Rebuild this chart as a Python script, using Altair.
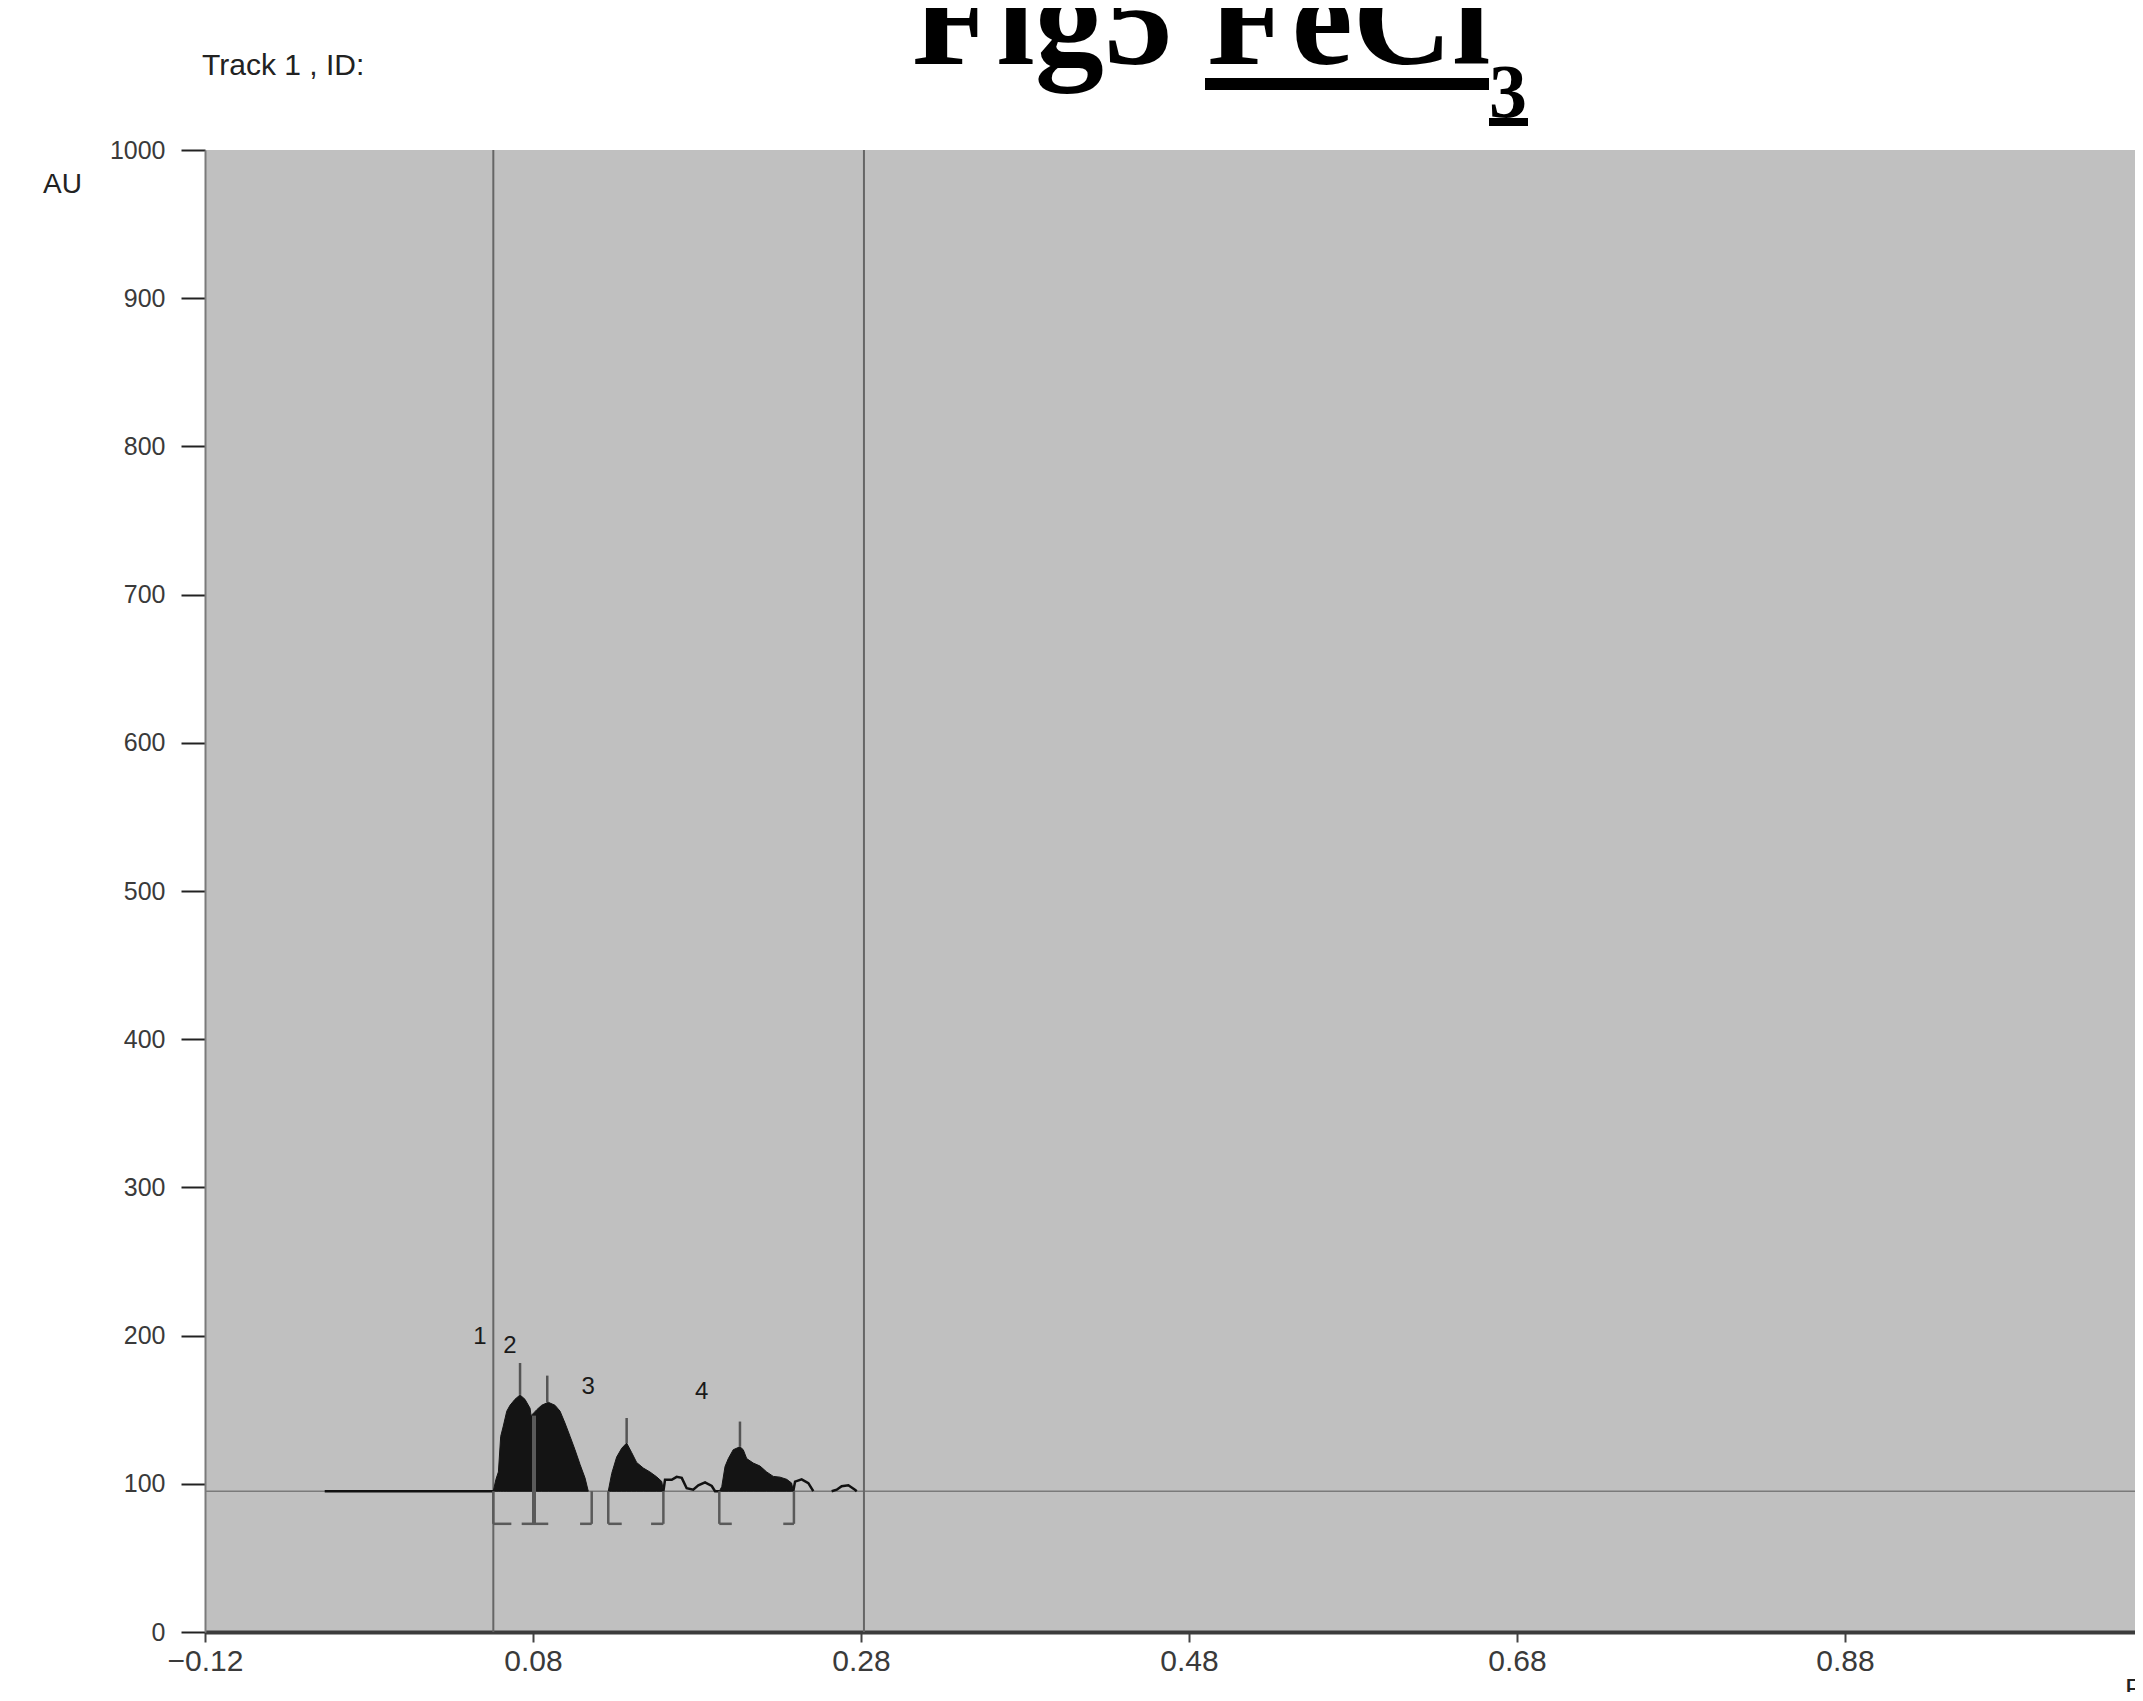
import altair as alt
import pandas as pd

# ---------------- data (Rf, AU) ----------------
x_ticks = [-0.12, 0.08, 0.28, 0.48, 0.68, 0.88]
y_ticks = [0, 100, 200, 300, 400, 500, 600, 700, 800, 900, 1000]

baseline_au = 95

lead_rf = [-0.047, 0.0558]
lead_au = [95, 95]

seg12_rf = [0.0558, 0.0574, 0.0589, 0.0603, 0.0619, 0.0640, 0.0660, 0.0690, 0.0721, 0.0751,
            0.0782, 0.0788, 0.0806, 0.0823, 0.0853, 0.0893, 0.0934, 0.0965, 0.0995, 0.1026,
            0.1056, 0.1087, 0.1117, 0.1137]
seg12_au = [95, 103, 108, 132, 139, 149, 153, 157, 160, 157,
            151, 146, 148, 150, 153, 155, 153, 149, 141, 132,
            123, 113, 104, 95]

seg3_rf = [0.1259, 0.1280, 0.1310, 0.1341, 0.1371, 0.1402, 0.1432, 0.1473, 0.1513, 0.1554, 0.1585, 0.1595]
seg3_au = [95, 107, 118, 124, 127.5, 121, 114.4, 110.6, 108, 104.7, 101.6, 95]

seg4_rf = [0.1936, 0.1951, 0.1971, 0.1991, 0.2021, 0.2062, 0.2082, 0.2103, 0.2143, 0.2184,
           0.2225, 0.2265, 0.2306, 0.2347, 0.2377, 0.2387]
seg4_au = [95, 98, 111.7, 117, 123, 125, 123, 117, 114, 112,
           108, 105, 104.5, 103, 100.5, 95]

w1_rf = [0.1595, 0.1605, 0.1646, 0.1676, 0.1707, 0.1737, 0.1777, 0.1808, 0.1849, 0.1890, 0.1910, 0.1936]
w1_au = [95, 102.7, 102.7, 104.7, 104, 97, 96, 99, 101, 98.5, 95, 95]
w2_rf = [0.2387, 0.2398, 0.2438, 0.2479, 0.2509]
w2_au = [95, 101.5, 103, 100.5, 95]
w3_rf = [0.2621, 0.2652, 0.2682, 0.2723, 0.2763, 0.2774]
w3_au = [95, 96, 98.4, 99, 96, 95]

marker_rf = [0.0721, 0.0887, 0.1371, 0.2062]
marker_base = [160, 155, 127.5, 125]
marker_top = [181.5, 173, 144.4, 142]

sep_rf = [0.0806]
sep_low = [73]
sep_top = [146]

br_rf = [0.0558, 0.0806, 0.1158, 0.1259, 0.1595, 0.1936, 0.2391]
br_h1 = [0.0558, 0.0731, 0.1087, 0.1259, 0.1520, 0.1936, 0.2326]
br_h2 = [0.0668, 0.0893, 0.1158, 0.1341, 0.1595, 0.2012, 0.2391]
br_low = 73

vline_rf = [0.0558, 0.2818]

lab_text = ["1", "2", "3", "4"]
lab_rf = [0.0477, 0.066, 0.1137, 0.1829]
lab_au = [199, 193, 165, 162]

# ---------------- scales / axes ----------------
W, H = 1930, 1482
xscale = alt.Scale(domain=[-0.12, -0.12 + W / 1640], nice=False, zero=False)
yscale = alt.Scale(domain=[0, 1000], nice=False)
xaxis = alt.Axis(values=x_ticks, format=".2f", title=None, grid=False,
                 domainColor="#3c3c3c", domainWidth=4, tickColor="#444444", tickWidth=2,
                 tickSize=10, labelPadding=4, labelFont="Liberation Sans", labelFontSize=30,
                 labelColor="#3a3a3a", labelFlush=False, labelOverlap=False)
yaxis = alt.Axis(values=y_ticks, format="d", title=None, grid=False,
                 domainColor="#7a7a7a", domainWidth=2, tickColor="#222222", tickWidth=2,
                 tickSize=24, labelPadding=16, labelFont="Liberation Sans", labelFontSize=25,
                 labelColor="#3a3a3a", labelFlush=False, labelOverlap=False)


def X(f):
    return alt.X(f, type="quantitative", scale=xscale, axis=xaxis)


def Y(f):
    return alt.Y(f, type="quantitative", scale=yscale, axis=yaxis)


def peak_df(rf, au):
    return pd.DataFrame({"rf": rf, "au": au, "base": [baseline_au] * len(rf)})


def line_df(rf, au):
    return pd.DataFrame({"rf": rf, "au": au})


# ---------------- layers ----------------
def area_layer(rf, au):
    return alt.Chart(peak_df(rf, au)).mark_area(
        color="#141414", stroke="#141414", strokeWidth=1, interpolate="linear"
    ).encode(x=X("rf"), y=Y("au"), y2=alt.Y2("base"))


def line_layer(rf, au):
    return alt.Chart(line_df(rf, au)).mark_line(color="#111111", strokeWidth=2.5).encode(
        x=X("rf"), y=Y("au"))


markers = pd.DataFrame({"rf": marker_rf, "au": marker_base, "top": marker_top})
sep = pd.DataFrame({"rf": sep_rf, "au": sep_low, "top": sep_top})
brv = pd.DataFrame({"rf": br_rf, "au": [br_low] * len(br_rf), "top": [baseline_au] * len(br_rf)})
brh = pd.DataFrame({"rf": br_h1, "rf2": br_h2, "au": [br_low] * len(br_h1)})
vlines = pd.DataFrame({"rf": vline_rf})
hline = pd.DataFrame({"au": [baseline_au]})
labels = pd.DataFrame({"t": lab_text, "rf": lab_rf, "au": lab_au})

hrule = alt.Chart(hline).mark_rule(color="#7a7a7a", strokeWidth=1.5).encode(y=Y("au"))
vrule = alt.Chart(vlines).mark_rule(color="#666666", strokeWidth=2).encode(x=X("rf"))

mrule = alt.Chart(markers).mark_rule(color="#555555", strokeWidth=2.5).encode(
    x=X("rf"), y=Y("au"), y2="top")
srule = alt.Chart(sep).mark_rule(color="#5a5a5a", strokeWidth=4).encode(
    x=X("rf"), y=Y("au"), y2="top")
bv = alt.Chart(brv).mark_rule(color="#5a5a5a", strokeWidth=2.5).encode(
    x=X("rf"), y=Y("au"), y2="top")
bh = alt.Chart(brh).mark_rule(color="#5a5a5a", strokeWidth=2.5).encode(
    x=X("rf"), x2="rf2", y=Y("au"))

lab = alt.Chart(labels).mark_text(font="Liberation Sans", fontSize=24, color="#1a1a1a",
                                  baseline="middle", align="center").encode(
    x=X("rf"), y=Y("au"), text="t")

one = pd.DataFrame({"k": [0]})
title_main = alt.Chart(one).mark_text(text="Fig5 FeCl", font="Liberation Serif", fontWeight="bold",
                                      fontSize=138, align="left", baseline="alphabetic",
                                      color="#000000").encode(x=alt.value(707), y=alt.value(-86))
title_sub = alt.Chart(one).mark_text(text="3", font="Liberation Serif", fontWeight="bold",
                                     fontSize=76, align="left", baseline="alphabetic",
                                     color="#000000").encode(x=alt.value(1284), y=alt.value(-33))
ul1 = alt.Chart(one).mark_rule(color="#000000", strokeWidth=12).encode(
    x=alt.value(1000), x2=alt.value(1284), y=alt.value(-66))
ul2 = alt.Chart(one).mark_rule(color="#000000", strokeWidth=8).encode(
    x=alt.value(1284), x2=alt.value(1323), y=alt.value(-28))
track = alt.Chart(one).mark_text(text="Track  1  ,  ID:", font="Liberation Sans", fontSize=30,
                                 align="left", baseline="middle", color="#222222").encode(
    x=alt.value(-3), y=alt.value(-84))
au_lab = alt.Chart(one).mark_text(text="AU", font="Liberation Sans", fontSize=28,
                                  align="left", baseline="middle", color="#222222").encode(
    x=alt.value(-162), y=alt.value(35))
rf_lab = alt.Chart(one).mark_text(text="Rf", font="Liberation Sans", fontSize=28,
                                  align="left", baseline="middle", color="#222222").encode(
    x=alt.value(W - 10), y=alt.value(H + 58))

chart = alt.layer(
    hrule, vrule,
    area_layer(seg12_rf, seg12_au), area_layer(seg3_rf, seg3_au), area_layer(seg4_rf, seg4_au),
    line_layer(lead_rf, lead_au), line_layer(w1_rf, w1_au), line_layer(w2_rf, w2_au),
    line_layer(w3_rf, w3_au),
    mrule, srule, bv, bh, lab,
    title_main, title_sub, ul1, ul2, track, au_lab, rf_lab
).properties(
    width=W, height=H,
    autosize=alt.AutoSizeParams(type="none"),
    padding={"left": 197, "top": 142, "right": 0, "bottom": 60},
    background="#ffffff",
).configure_view(fill="#c0c0c0", strokeWidth=0)

chart.save("out.html", embed_options={"renderer": "svg", "actions": False})
